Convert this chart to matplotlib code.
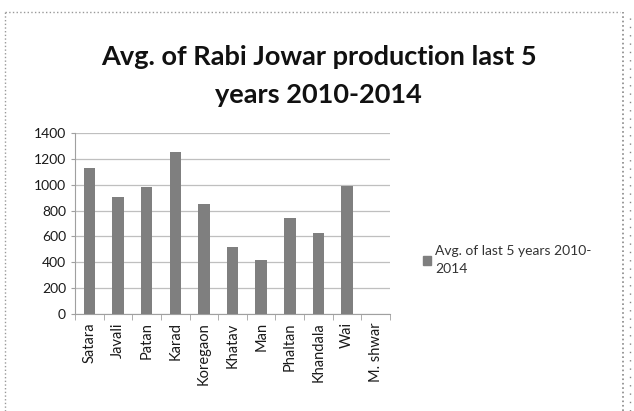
import numpy as np
import matplotlib.pyplot as plt
from matplotlib.patches import Patch

plt.rcParams['font.family'] = ['Lato', 'DejaVu Sans']

talukas = ['Satara', 'Javali', 'Patan', 'Karad', 'Koregaon', 'Khatav',
           'Man', 'Phaltan', 'Khandala', 'Wai', 'M. shwar']
avg_prod = [1130, 905, 980, 1253, 850, 515, 418, 740, 628, 992, 0]
series_name = 'Avg. of last 5 years 2010-\n2014'

fig = plt.figure(figsize=(6.34, 4.11), dpi=100)
ax = fig.add_axes([75/634, 1 - 314/411, 315/634, 181/411])

x = np.arange(len(talukas))
ax.bar(x, avg_prod, width=0.4, color='#7f7f7f', zorder=3)
ax.set_xlim(-0.5, len(talukas) - 0.5)
ax.set_ylim(0, 1400)
ax.set_yticks(range(0, 1401, 200))
ax.yaxis.grid(True, color='#bfbfbf', linewidth=0.9, zorder=0)
ax.set_xticks(x)
ax.set_xticklabels(talukas, rotation=90, fontsize=10.5, color='#1a1a1a')
ax.tick_params(axis='x', length=0, pad=6)
ax.set_xticks(np.arange(-0.5, len(talukas)), minor=True)
ax.tick_params(axis='x', which='minor', length=4, color='#a0a0a0')
ax.tick_params(axis='y', length=3, color='#a0a0a0', labelsize=10, labelcolor='#1a1a1a')
for s in ['top', 'right']:
    ax.spines[s].set_visible(False)
for s in ['left', 'bottom']:
    ax.spines[s].set_color('#a0a0a0')

fig.text(0.503, 0.815, 'Avg. of Rabi Jowar production last 5\nyears 2010-2014',
         ha='center', va='center', fontsize=19.5, fontweight='bold',
         linespacing=1.7, color='#111111')

leg = fig.legend(handles=[Patch(color='#7f7f7f', label=series_name)],
                 loc='center left', bbox_to_anchor=(410/634, 1 - 260/411),
                 frameon=False, fontsize=10, handlelength=0.6, handleheight=0.6,
                 handletextpad=0.3, labelcolor='#333333')
for t in leg.get_texts():
    t.set_linespacing(1.6)

# dotted frame edges
fig.add_artist(plt.Line2D([5/634, 620/634], [1 - 12/411] * 2, color='#999999',
                          linestyle=':', linewidth=1, transform=fig.transFigure))
fig.add_artist(plt.Line2D([5/634] * 2, [0, 1 - 12/411], color='#999999',
                          linestyle=':', linewidth=1, transform=fig.transFigure))
fig.add_artist(plt.Line2D([623/634] * 2, [0, 1 - 12/411], color='#888888',
                          linestyle=':', linewidth=1.2, transform=fig.transFigure))
fig.add_artist(plt.Line2D([630/634] * 2, [0, 1 - 12/411], color='#888888',
                          linestyle=(0, (1, 5)), linewidth=1, transform=fig.transFigure))

fig.savefig('out.png', dpi=100)
